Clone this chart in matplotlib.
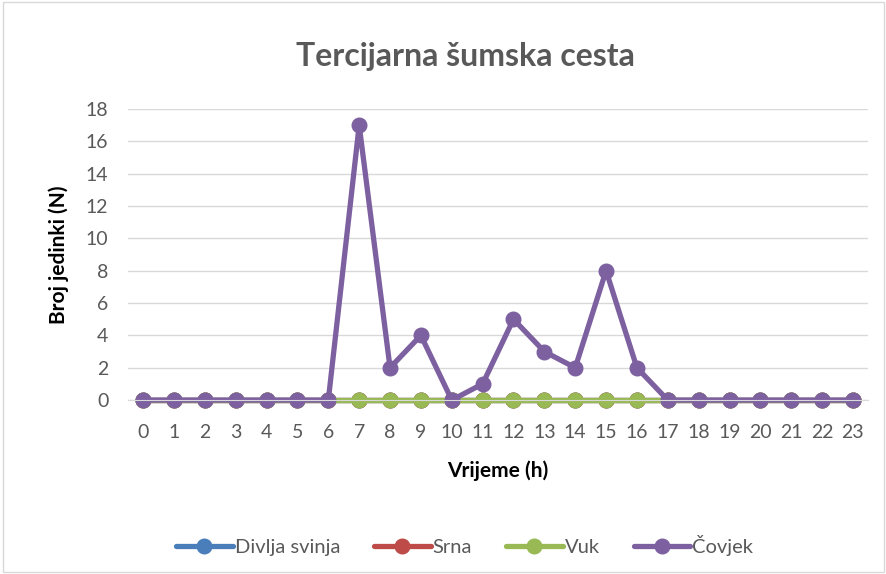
import numpy as np
import matplotlib.pyplot as plt
from matplotlib.patches import Rectangle

plt.rcParams['font.family'] = ['Lato', 'DejaVu Sans']

hours = list(range(24))
divlja_svinja = [0] * 24
srna = [0] * 24
vuk = [0] * 24
covjek = [0, 0, 0, 0, 0, 0, 0, 17, 2, 4, 0, 1, 5, 3, 2, 8, 2, 0, 0, 0, 0, 0, 0, 0]

series = [('Divlja svinja', divlja_svinja, '#4a7ebb'),
          ('Srna', srna, '#be4b48'),
          ('Vuk', vuk, '#98b954'),
          ('Čovjek', covjek, '#7d60a0')]

fig = plt.figure(figsize=(8.87, 5.74), dpi=100)
ax = fig.add_axes([0.144, 0.303, 0.835, 0.507])

for name, vals, col in series:
    ax.plot(hours, vals, color=col, lw=3.8, marker='o', ms=10.5, label=name,
            clip_on=False, solid_capstyle='round')

ax.set_xlim(-0.5, 23.5)
ax.set_ylim(0, 18)
ax.set_yticks(range(0, 19, 2))
ax.set_xticks(hours)
ax.grid(axis='y', color='#d9d9d9', lw=1)
ax.set_axisbelow(True)
for s in ['top', 'right', 'left']:
    ax.spines[s].set_visible(False)
ax.spines['bottom'].set_color('#d9d9d9')
ax.tick_params(length=0, labelsize=14, colors='#595959')
ax.tick_params(axis='x', pad=17)
ax.tick_params(axis='y', pad=14)

ax.set_xlabel('Vrijeme (h)', fontsize=15, fontweight='bold', labelpad=14)
ax.set_ylabel('Broj jedinki (N)', fontsize=15, fontweight='bold', labelpad=12)
fig.text(0.525, 0.902, 'Tercijarna šumska cesta', ha='center', va='center',
         fontsize=23, fontweight='bold', color='#595959')

ax.legend(loc='center', bbox_to_anchor=(0.455, -0.50), ncol=4, frameon=False,
          fontsize=14.5, handlelength=2.8, columnspacing=1.7, handletextpad=0.1,
          labelcolor='#595959')

fig.patches.append(Rectangle((0.003, 0.003), 0.994, 0.994, transform=fig.transFigure,
                             fill=False, edgecolor='#d9d9d9', lw=1))

fig.savefig('out.png', dpi=100)
